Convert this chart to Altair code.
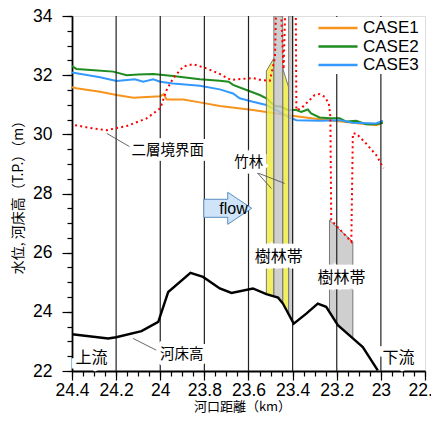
import altair as alt
import pandas as pd

# ---------------- data ----------------
case1_km = [24.40, 24.38, 24.273, 24.198, 24.122, 24.000, 23.985, 23.971, 23.896, 23.821,
            23.730, 23.580, 23.429, 23.278, 23.127, 23.021, 22.991]
case1_wl = [31.59, 31.56, 31.44, 31.33, 31.24, 31.29, 31.36, 31.18, 31.18, 31.08,
            30.96, 30.82, 30.65, 30.51, 30.39, 30.31, 30.39]

case2_km = [24.40, 24.38, 24.30, 24.213, 24.152, 24.10, 24.032, 23.942, 23.821, 23.730,
            23.690, 23.670, 23.609, 23.549, 23.519, 23.481, 23.451, 23.421, 23.383, 23.361,
            23.331, 23.316, 23.278, 23.233, 23.187, 23.157, 23.112, 23.067, 23.021, 22.991]
case2_wl = [32.31, 32.21, 32.17, 32.12, 32.00, 32.02, 32.04, 31.97, 31.86, 31.81,
            31.78, 31.67, 31.50, 31.33, 31.22, 30.96, 30.93, 30.82, 30.82, 30.76,
            30.84, 30.71, 30.57, 30.54, 30.54, 30.43, 30.46, 30.34, 30.34, 30.39]

case3_km = [24.40, 24.273, 24.198, 24.115, 24.077, 24.032, 24.000, 23.942, 23.821, 23.730,
            23.670, 23.640, 23.580, 23.519, 23.474, 23.421, 23.383, 23.278, 23.187, 23.127,
            23.021, 22.991]
case3_wl = [32.09, 31.93, 31.80, 31.86, 31.78, 31.86, 31.78, 31.72, 31.64, 31.52,
            31.38, 31.22, 31.10, 30.99, 30.82, 30.59, 30.48, 30.46, 30.48, 30.39,
            30.37, 30.46]

bed_km = [24.400, 24.236, 24.200, 24.085, 24.009, 23.964, 23.863, 23.806, 23.730, 23.677,
          23.580, 23.519, 23.466, 23.444, 23.395, 23.338, 23.286, 23.248, 23.195, 23.127,
          23.082, 23.014]
bed_z = [23.24, 23.10, 23.14, 23.35, 23.66, 24.67, 25.32, 25.18, 24.79, 24.64,
         24.79, 24.60, 24.48, 24.28, 23.60, 23.94, 24.28, 24.17, 23.55, 23.10,
         22.81, 22.02]

# two-layer interface (red dotted), in drawing order
iface_km = [24.386, 24.32, 24.243, 24.152, 24.062, 24.000, 23.971, 23.942, 23.896, 23.851,
            23.791, 23.730, 23.680, 23.620, 23.580, 23.540, 23.503, 23.480, 23.474, 23.455,
            23.441, 23.432, 23.400, 23.386, 23.383, 23.361, 23.331, 23.300, 23.278, 23.255,
            23.236, 23.229, 23.225, 23.134, 23.127, 23.112, 23.067, 23.021, 22.988]
iface_z = [30.31, 30.22, 30.14, 30.28, 30.54, 30.88, 31.50, 31.89, 32.29, 32.37,
           32.23, 32.04, 31.84, 31.88, 31.90, 31.83, 31.81, 32.60, 34.60, 34.60,
           32.20, 34.60, 34.60, 34.60, 30.82, 30.88, 31.10, 31.33, 31.36, 31.27,
           31.05, 30.60, 27.10, 26.37, 30.03, 30.03, 29.69, 29.30, 28.85]

# vegetation bands (bamboo = yellow, woods = gray)
yellow_id = ["Y1", "Y1", "Y2", "Y2"]
yellow_km = [23.519, 23.485, 23.445, 23.418]
yellow_top = [32.14, 32.57, 32.23, 31.59]
yellow_bot = [24.60, 24.52, 24.28, 23.92]

gray_id = ["G1", "G1", "G1", "G2", "G2", "G3", "G3", "G3"]
gray_km = [23.485, 23.466, 23.445, 23.418, 23.400, 23.233, 23.195, 23.127]
gray_top = [34.0, 34.0, 34.0, 34.0, 34.0, 27.10, 26.83, 26.37]
gray_bot = [24.52, 24.48, 24.28, 23.92, 23.67, 24.00, 23.55, 23.10]

grid_km = [24.2, 24.0, 23.8, 23.6, 23.4, 23.2, 23.0]

x_major = [24.4, 24.2, 24.0, 23.8, 23.6, 23.4, 23.2, 23.0, 22.8]
x_ticks = [round(22.8 + 0.05 * i, 2) for i in range(33)]
y_major = [22, 24, 26, 28, 30, 32, 34]
y_ticks = [22 + 0.5 * i for i in range(25)]

# annotations
big_text = ["樹林帯", "樹林帯", "上流", "下流"]
big_km = [23.463, 23.178, 24.312, 22.920]
big_z = [25.85, 25.14, 22.43, 22.43]

small_text = ["二層境界面", "竹林", "河床高"]
small_km = [23.966, 23.599, 23.902]
small_z = [29.44, 29.03, 22.53]

lead_km = [24.242, 23.560, 23.560, 24.123]
lead_z = [30.03, 28.70, 28.70, 23.10]
lead_km2 = [24.138, 23.496, 23.436, 24.017]
lead_z2 = [29.58, 28.17, 28.34, 22.70]

flow_km = [23.694]
flow_z = [27.50]
flow_text_km = [23.668]
flow_text_z = [27.47]

# ---------------- tables ----------------
lines_df = pd.concat([
    pd.DataFrame({"km": case1_km, "z": case1_wl, "case": "CASE1"}),
    pd.DataFrame({"km": case2_km, "z": case2_wl, "case": "CASE2"}),
    pd.DataFrame({"km": case3_km, "z": case3_wl, "case": "CASE3"}),
])
bed_df = pd.DataFrame({"km": bed_km, "z": bed_z})
iface_df = pd.DataFrame({"km": iface_km, "z": iface_z, "i": range(len(iface_km))})
yellow_df = pd.DataFrame({"band": yellow_id, "km": yellow_km, "z": yellow_top, "z2": yellow_bot})
gray_df = pd.DataFrame({"band": gray_id, "km": gray_km, "z": gray_top, "z2": gray_bot})
grid_df = pd.DataFrame({"km": grid_km})
big_df = pd.DataFrame({"t": big_text, "km": big_km, "z": big_z})
small_df = pd.DataFrame({"t": small_text, "km": small_km, "z": small_z})
lead_df = pd.DataFrame({"km": lead_km, "z": lead_z, "km2": lead_km2, "z2": lead_z2})
arrow_df = pd.DataFrame({"km": flow_km, "z": flow_z})
flowtxt_df = pd.DataFrame({"km": flow_text_km, "z": flow_text_z, "t": ["flow"]})

# ---------------- encodings ----------------
CJK = "Noto Sans CJK JP"
LAT = "Liberation Sans"

common = dict(labelFont=LAT, labelFontSize=17.5, labelColor="black", tickColor="black",
              tickWidth=1.2, grid=False, labelOverlap=False, labelFlush=False, labelBound=False)

x_axis_major = alt.Axis(
    orient="bottom", values=x_major, labelExpr="format(datum.value, '~g')", tickSize=9,
    title="河口距離（km）", titleFont=CJK, titleFontSize=13, titleFontWeight="normal",
    titleColor="black", labelPadding=1, titleX=170, titleY=39, titleBaseline="alphabetic",
    domainColor="black", domainWidth=1.8, **common)
x_axis_minor = alt.Axis(
    orient="bottom", values=x_ticks, labels=False, tickSize=5, title=None, domain=False,
    tickColor="black", tickWidth=1.2, grid=False)
y_axis_major = alt.Axis(
    orient="left", values=y_major, labelExpr="format(datum.value, '~g')", tickSize=10,
    title="水位, 河床高（T.P.）（m）", titleFont=CJK, titleFontSize=14, titleFontWeight="normal",
    titleColor="black", labelPadding=10, titleX=-54, titleBaseline="middle",
    domainColor="black", domainWidth=1.8, **common)
y_axis_minor = alt.Axis(
    orient="left", values=y_ticks, labels=False, tickSize=5, title=None, domain=False,
    tickColor="black", tickWidth=1.2, grid=False)

x_scale = alt.Scale(domain=[22.8, 24.4], reverse=True, nice=False, zero=False)
y_scale = alt.Scale(domain=[22, 34], nice=False, zero=False)

X_main = alt.X("km:Q", scale=x_scale, axis=x_axis_major)
Y_main = alt.Y("z:Q", scale=y_scale, axis=y_axis_major)
X_minor = alt.X("km:Q", scale=x_scale, axis=x_axis_minor)
Y_minor = alt.Y("z:Q", scale=y_scale, axis=y_axis_minor)
X = alt.X("km:Q", scale=x_scale, axis=None)
Y = alt.Y("z:Q", scale=y_scale, axis=None)

# ---------------- layers ----------------
water = alt.Chart(lines_df).mark_line(strokeWidth=2, clip=True).encode(
    x=X_main, y=Y_main,
    color=alt.Color("case:N",
                    scale=alt.Scale(domain=["CASE1", "CASE2", "CASE3"],
                                    range=["#f7941d", "#1e8c1e", "#3399ff"]),
                    legend=alt.Legend(orient="none", legendX=255, legendY=1, title=None,
                                      fillColor="white", padding=1,
                                      symbolType="M-2.3,0L2.3,0", symbolSize=289,
                                      symbolStrokeWidth=2.5,
                                      labelFont=LAT, labelFontSize=17, labelColor="black",
                                      labelOffset=15, rowPadding=0.5)),
)

yellow = alt.Chart(yellow_df).mark_area(color="#eeec3c", fillOpacity=0.82, stroke="#777777",
                                        strokeWidth=1, clip=True).encode(
    x=X, y=Y, y2=alt.Y2("z2:Q"), detail="band:N")
gray = alt.Chart(gray_df).mark_area(color="#c4c4c4", fillOpacity=0.82, stroke="#777777",
                                    strokeWidth=1, clip=True).encode(
    x=X, y=Y, y2=alt.Y2("z2:Q"), detail="band:N")

grid = alt.Chart(grid_df).mark_rule(color="#222222", strokeWidth=1.2).encode(x=X)

iface = alt.Chart(iface_df).mark_line(color="#ff0000", strokeWidth=2, strokeDash=[2, 3.2],
                                      clip=True).encode(x=X, y=Y, order="i:Q")

bed = alt.Chart(bed_df).mark_line(color="black", strokeWidth=2.4, clip=True).encode(
    x=X_minor, y=Y_minor)

leads = alt.Chart(lead_df).mark_rule(color="#555555", strokeWidth=0.9).encode(
    x=X, y=Y, x2=alt.X2("km2:Q"), y2=alt.Y2("z2:Q"))

arrow = alt.Chart(arrow_df).mark_point(
    shape="M-1,-0.375L0,-0.375L0,-0.667L1,0L0,0.667L0,0.375L-1,0.375Z",
    size=2304, filled=True, color="#cfe4f8", stroke="#5a8dc0", strokeWidth=1, opacity=1,
).encode(x=X, y=Y)

flow_txt = alt.Chart(flowtxt_df).mark_text(font=LAT, fontSize=16, color="black",
                                           baseline="middle").encode(x=X, y=Y, text="t:N")

big_halo = alt.Chart(big_df).mark_text(font=CJK, fontSize=16, color="white", stroke="white",
                                       strokeWidth=9, baseline="middle").encode(x=X, y=Y, text="t:N")
big_txt = alt.Chart(big_df).mark_text(font=CJK, fontSize=16, color="black",
                                      baseline="middle").encode(x=X, y=Y, text="t:N")
small_halo = alt.Chart(small_df).mark_text(font=CJK, fontSize=14.5, color="white", stroke="white",
                                           strokeWidth=8, baseline="middle").encode(x=X, y=Y, text="t:N")
small_txt = alt.Chart(small_df).mark_text(font=CJK, fontSize=14.5, color="black",
                                          baseline="middle").encode(x=X, y=Y, text="t:N")

chart = alt.layer(
    water, yellow, gray, grid, iface, bed, leads, arrow, flow_txt,
    big_halo, small_halo, big_txt, small_txt,
).resolve_axis(
    x="independent", y="independent",
).properties(
    width=353, height=355,
    autosize=alt.AutoSizeParams(type="none"),
    padding={"left": 64, "top": 8, "right": 6, "bottom": 42},
).configure_view(
    stroke="black", strokeWidth=1.5,
).configure(background="white")

chart.save("out.html", embed_options={"renderer": "svg", "actions": False})
